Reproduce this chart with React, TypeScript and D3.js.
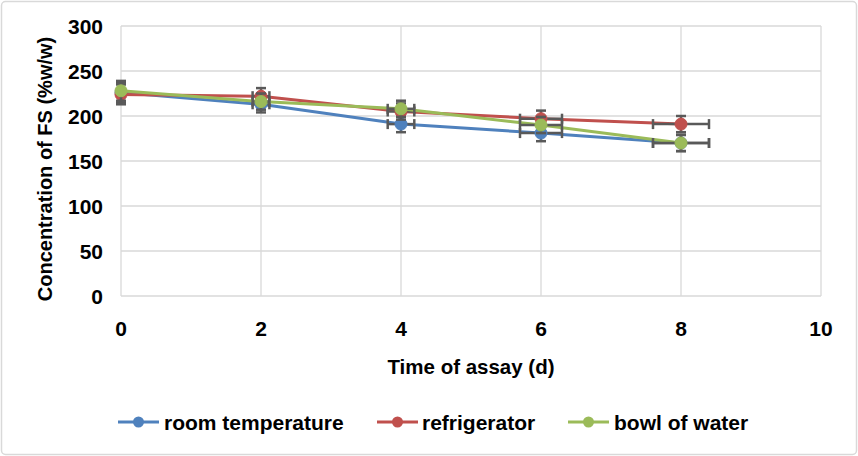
import React from "react";
import * as d3 from "d3";

const days = [0, 2, 4, 6, 8];
const roomTemp = [226, 213, 191, 181, 170];
const refrigerator = [224, 222, 205, 197, 191];
const bowlOfWater = [228, 216, 208, 190, 170];
const roomErr = [11, 9, 9, 9, 9];
const refErr = [11, 9, 9, 9, 9];
const bowlErr = [11, 9, 9, 9, 9];
const dayErr = [0, 0.12, 0.19, 0.3, 0.4];
const xTicks = [0, 2, 4, 6, 8, 10];
const yTicks = [0, 50, 100, 150, 200, 250, 300];
const seriesNames = ["room temperature", "refrigerator", "bowl of water"];
const seriesColors = ["#4F81BD", "#C0504D", "#9BBB59"];

const W = 858, H = 456;
const M = { left: 121, right: 821, top: 26, bottom: 296 };
const FONT = "'Liberation Sans', Arial, sans-serif";

export default function App() {
  const x = d3.scaleLinear().domain([0, 10]).range([M.left, M.right]);
  const y = d3.scaleLinear().domain([0, 300]).range([M.bottom, M.top]);
  const line = d3.line<number>().x((_, i) => x(days[i])).y((v) => y(v));
  const series = [
    { name: seriesNames[0], values: roomTemp, err: roomErr, color: seriesColors[0] },
    { name: seriesNames[1], values: refrigerator, err: refErr, color: seriesColors[1] },
    { name: seriesNames[2], values: bowlOfWater, err: bowlErr, color: seriesColors[2] },
  ];
  const ebColor = "#595959";
  const legendItems = [
    { lx: 118, tx: 164 },
    { lx: 377, tx: 422 },
    { lx: 568, tx: 614 },
  ];
  const LY = 422;
  return (
    <svg width={W} height={H} style={{ position: "absolute", left: 0, top: 0, display: "block" }} fontFamily={FONT}>
      <rect x={0} y={0} width={W} height={H} fill="#fff" />
      <rect x={1.5} y={1.5} width={W - 3} height={H - 3} rx={4} fill="#fff" stroke="#d9d9d9" strokeWidth={1.5} />
      {yTicks.map((t) => (
        <line key={"gy" + t} x1={M.left} x2={M.right} y1={y(t)} y2={y(t)} stroke="#d9d9d9" strokeWidth={1.3} />
      ))}
      {xTicks.map((t) => (
        <line key={"gx" + t} x1={x(t)} x2={x(t)} y1={M.top} y2={M.bottom} stroke="#d9d9d9" strokeWidth={1.3} />
      ))}
      {yTicks.map((t) => (
        <text key={"ty" + t} x={103} y={y(t)} dy="0.36em" textAnchor="end" fontSize={21} fontWeight="bold" fill="#000">{t}</text>
      ))}
      {xTicks.map((t) => (
        <text key={"tx" + t} x={x(t)} y={328} dy="0.36em" textAnchor="middle" fontSize={21} fontWeight="bold" fill="#000">{t}</text>
      ))}
      <text x={(M.left + M.right) / 2} y={367} dy="0.36em" textAnchor="middle" fontSize={20.5} fontWeight="bold">Time of assay (d)</text>
      <text transform={`translate(45,169) rotate(-90)`} dy="0.36em" textAnchor="middle" fontSize={20} fontWeight="bold">Concentration of FS (%w/w)</text>
      {series.map((s) => (
        <g key={s.name}>
          <path d={line(s.values) || ""} fill="none" stroke={s.color} strokeWidth={3} strokeLinejoin="round" />
          {s.values.map((v, i) => {
            const cx = x(days[i]);
            const cy = y(v);
            const y1 = y(v + s.err[i]);
            const y2 = y(v - s.err[i]);
            const xl = x(days[i] - dayErr[i]);
            const xr = x(days[i] + dayErr[i]);
            return (
              <g key={i} stroke={ebColor} strokeWidth={2.5}>
                <line x1={cx} x2={cx} y1={y1} y2={y2} />
                <line x1={cx - 5} x2={cx + 5} y1={y1} y2={y1} />
                <line x1={cx - 5} x2={cx + 5} y1={y2} y2={y2} />
                {dayErr[i] > 0 && (
                  <>
                    <line x1={xl} x2={xr} y1={cy} y2={cy} />
                    <line x1={xl} x2={xl} y1={cy - 5} y2={cy + 5} />
                    <line x1={xr} x2={xr} y1={cy - 5} y2={cy + 5} />
                  </>
                )}
              </g>
            );
          })}
          {s.values.map((v, i) => (
            <circle key={"m" + i} cx={x(days[i])} cy={y(v)} r={6} fill={s.color} stroke={s.color} strokeWidth={1} />
          ))}
        </g>
      ))}
      {series.map((s, i) => (
        <g key={"lg" + i}>
          <line x1={legendItems[i].lx} x2={legendItems[i].lx + 41} y1={LY} y2={LY} stroke={s.color} strokeWidth={3} />
          <circle cx={legendItems[i].lx + 20.5} cy={LY} r={5.5} fill={s.color} />
          <text x={legendItems[i].tx} y={LY} dy="0.36em" fontSize={21} fontWeight="bold">{s.name}</text>
        </g>
      ))}
    </svg>
  );
}
